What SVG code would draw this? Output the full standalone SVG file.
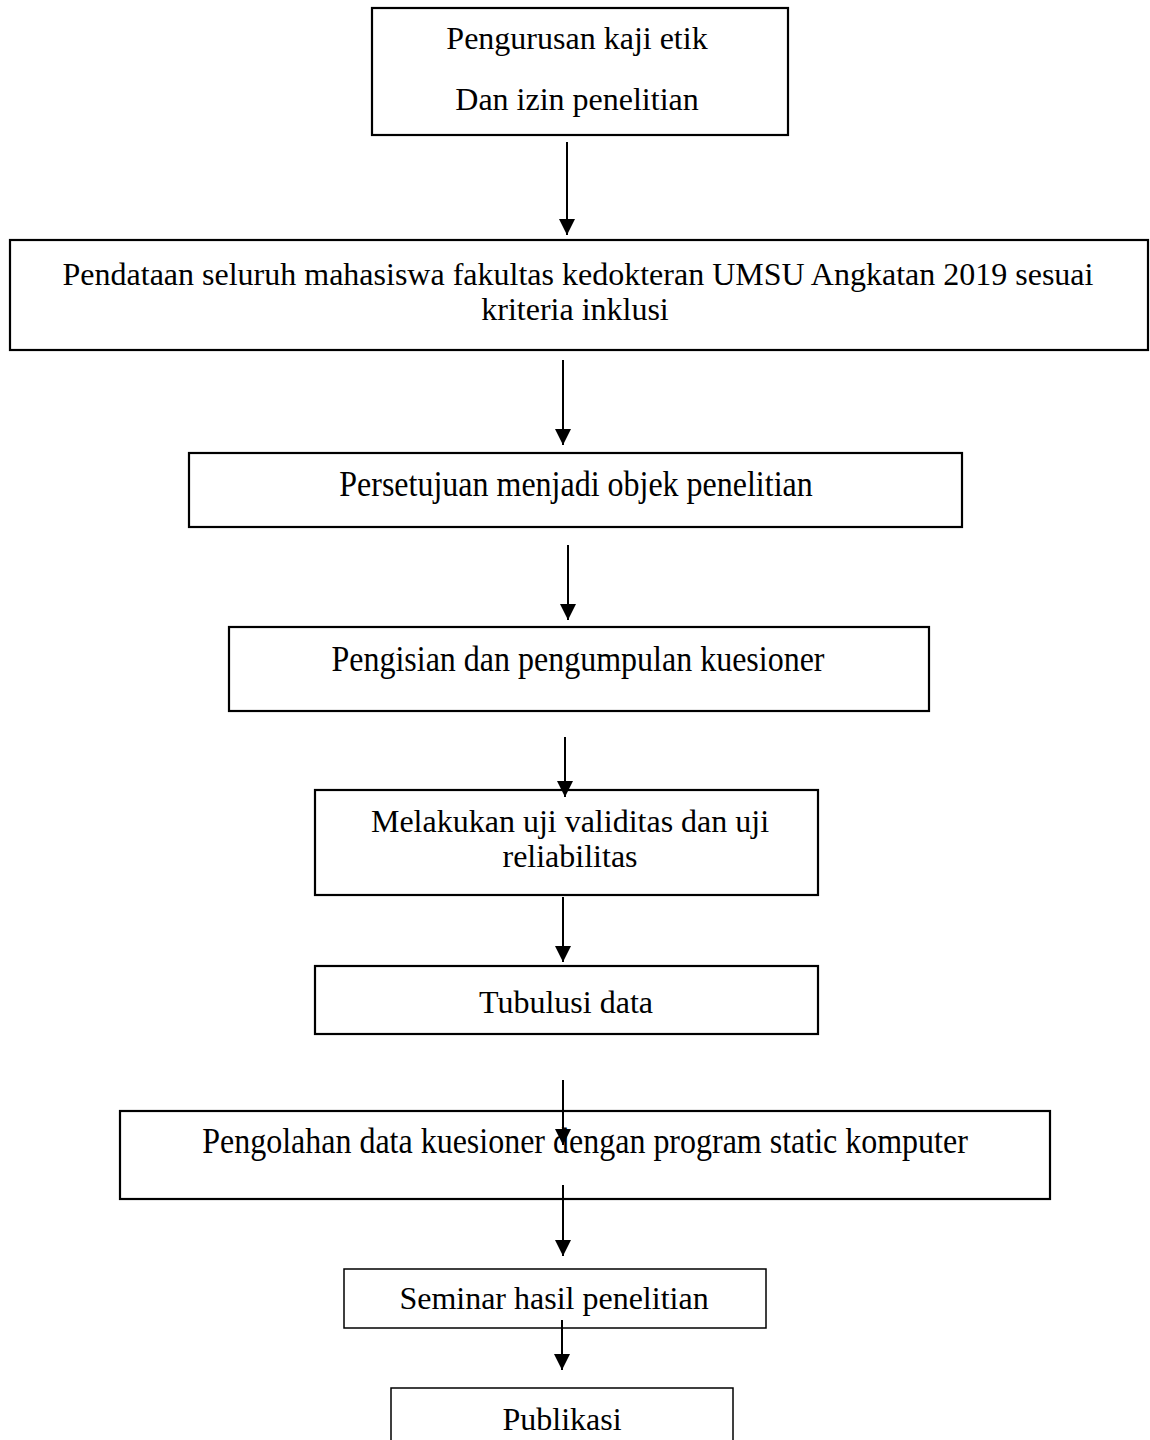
<svg xmlns="http://www.w3.org/2000/svg" width="1150" height="1440" viewBox="0 0 1150 1440">
<style>
.box{fill:#fff;stroke:#000;stroke-width:2.2}
.thin{stroke-width:1.5}
.t{font-family:"Liberation Serif","Times New Roman",serif;font-size:32px;fill:#000;text-anchor:middle}
.c{stroke:#000;stroke-width:2;fill:none;marker-end:url(#ah)}
</style>
<defs>
<marker id="ah" markerUnits="userSpaceOnUse" markerWidth="16" markerHeight="16" refX="16" refY="8" orient="auto">
<path d="M0,0 L16,8 L0,16 z" fill="#000"/>
</marker>
</defs>
<rect width="1150" height="1440" fill="#fff"/>
<g id="n1"><rect class="box" x="372" y="8" width="416" height="127"/>
<text class="t" x="577" y="49">Pengurusan kaji etik</text>
<text class="t" x="577" y="110">Dan izin penelitian</text></g>
<g id="n2"><rect class="box" x="10" y="240" width="1138" height="110"/>
<text class="t" x="578" y="285">Pendataan seluruh mahasiswa fakultas kedokteran UMSU Angkatan 2019 sesuai</text>
<text class="t" x="575" y="320">kriteria inklusi</text></g>
<g id="n3"><rect class="box" x="189" y="453" width="773" height="74"/>
<text class="t" transform="translate(576,496) scale(1,1.15)">Persetujuan menjadi objek penelitian</text></g>
<g id="n4"><rect class="box" x="229" y="627" width="700" height="84"/>
<text class="t" transform="translate(578,671) scale(1,1.1)">Pengisian dan pengumpulan kuesioner</text></g>
<g id="n5"><rect class="box" x="315" y="790" width="503" height="105"/>
<text class="t" x="570" y="832">Melakukan uji validitas dan uji</text>
<text class="t" x="570" y="867">reliabilitas</text></g>
<g id="n6"><rect class="box" x="315" y="966" width="503" height="68"/>
<text class="t" x="566" y="1013">Tubulusi data</text></g>
<g id="n7"><rect class="box" x="120" y="1111" width="930" height="88"/>
<text class="t" transform="translate(585,1153) scale(1,1.15)">Pengolahan data kuesioner dengan program static komputer</text></g>
<g id="n8"><rect class="box thin" x="344" y="1269" width="422" height="59"/>
<text class="t" x="554" y="1309">Seminar hasil penelitian</text></g>
<g id="n9"><rect class="box thin" x="391" y="1388" width="342" height="70"/>
<text class="t" x="562" y="1430">Publikasi</text></g>
<g id="connectors">
<line class="c" x1="567" y1="142" x2="567" y2="235"/>
<line class="c" x1="563" y1="360" x2="563" y2="445"/>
<line class="c" x1="568" y1="545" x2="568" y2="620"/>
<line class="c" x1="565" y1="737" x2="565" y2="797"/>
<line class="c" x1="563" y1="897" x2="563" y2="962"/>
<line class="c" x1="563" y1="1080" x2="563" y2="1145"/>
<line class="c" x1="563" y1="1185" x2="563" y2="1256"/>
<line class="c" x1="562" y1="1320" x2="562" y2="1370"/>
</g>
</svg>
